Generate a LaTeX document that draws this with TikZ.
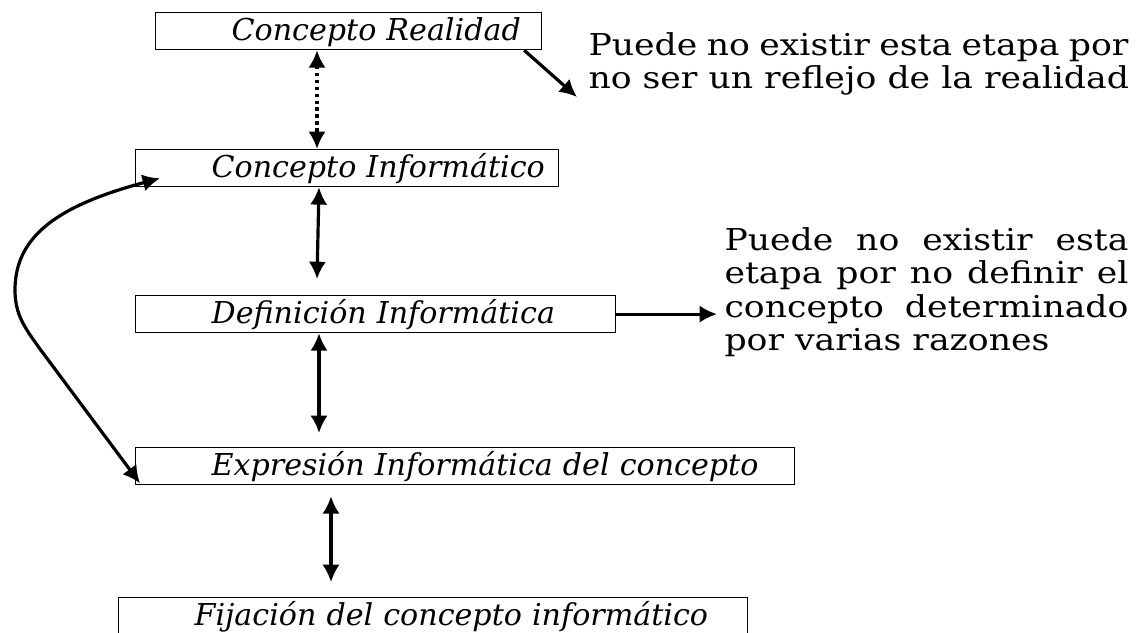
\documentclass[tikz,border=0pt]{standalone}
\usepackage{fontspec}
\setmainfont{DejaVu Serif}
\newfontfamily\notafont[FakeStretch=1.15]{DejaVu Serif}
\usepackage{tikz}
\usetikzlibrary{calc,arrows.meta,positioning}

\newlength{\anchoA}\setlength{\anchoA}{202.5pt}
\newlength{\anchoB}\setlength{\anchoB}{151.5pt}

\begin{document}
\begin{tikzpicture}[x=0.375pt, y=-0.375pt, >={Latex[length=6.5pt,width=6.5pt]},
    etapa/.style={draw, line width=0.45pt, anchor=north west, inner sep=0pt,
      minimum height=13.875pt, text height=10.5pt, text depth=3.4pt, align=left,
      font=\fontsize{11.3}{13}\selectfont\itshape,
      execute at begin node={\noindent\hspace*{28.5pt}}},
    nota/.style={inner sep=0pt, anchor=north west, align=left,
      font=\notafont\fontsize{11.3}{12.5}\selectfont},
    flecha/.style={line width=1.2pt}]
   \clip (0,0) rectangle (1138,633);

   %etapas
   \node[etapa, text width=144.75pt] (realidad) at (155,12) {Concepto Realidad};
   \node[etapa, text width=158.6pt] (informatico) at (135,149) {Concepto Informático};
   \node[etapa, text width=180pt] (definicion) at (135,295) {Definición Informática};
   \node[etapa, text width=247.1pt] (expresion) at (135,447) {Expresión Informática del concepto};
   \node[etapa, text width=235.9pt] (fijacion) at (118,597) {Fijación del concepto informático};

   %notas
   \node[nota] (notaA) at (588,32) {\makebox[\anchoA][s]{Puede no existir esta etapa por}\\
     no ser un reflejo de la realidad};
   \node[nota] (notaB) at (724,227) {\makebox[\anchoB][s]{Puede no existir esta}\\
     \makebox[\anchoB][s]{etapa por no definir el}\\
     \makebox[\anchoB][s]{concepto determinado}\\
     por varias razones};

   \coordinate (ejeA) at (317,0);
   \coordinate (ejeB) at (319,0);
   \coordinate (ejeC) at (331,0);
   \coordinate (puntaA) at (577,97);
   \coordinate (puntaB) at (717,0);

   %realidad - informatico
   \draw[<->, flecha, line width=1.3pt, dash pattern=on 1.3pt off 1.3pt]
     (realidad.south -| ejeA) -- (informatico.north -| ejeA);

   \path[<->, flecha]
     (informatico.south -| ejeB) edge ($(definicion.north -| ejeA)+(0,-16)$)
     (definicion.south -| ejeB) edge ($(expresion.north -| ejeB)+(0,-14)$)
     ($(expresion.south -| ejeC)+(0,11)$) edge ($(fijacion.north -| ejeC)+(0,-15)$);

   %vuelta expresion - informatico
   \draw[<->, flecha] ($(informatico.south west)+(25,-9)$)
     .. controls (60,205) and (15,235) .. (15,290)
     .. controls (15,315) and (25,328) .. (40,349)
     -- ($(expresion.south west)+(5,-2)$);

   %notas
   \path[->, flecha]
     ($(realidad.south east)+(-18,0)$) edge (puntaA)
     (definicion.east) edge (definicion.east -| puntaB);
\end{tikzpicture}
\end{document}
